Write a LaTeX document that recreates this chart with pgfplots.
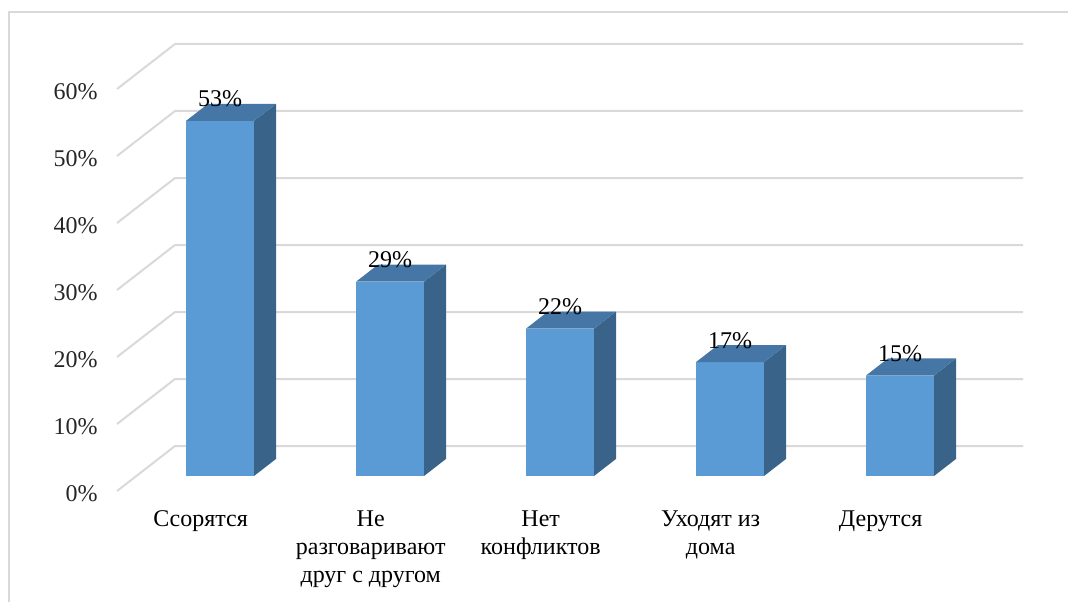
\documentclass[border=0pt]{standalone}
\usepackage{pgfplots}
\pgfplotsset{compat=1.18}
\usepackage{pgfplotstable}
\usepackage{fontspec}
\setmainfont{Liberation Serif}

\definecolor{barfront}{HTML}{5B9BD5}
\definecolor{bartop}{HTML}{4676A5}
\definecolor{barside}{HTML}{3A6389}
\definecolor{gridgray}{HTML}{D9D9D9}
\definecolor{ticktext}{HTML}{262626}

\pgfplotstableread{
idx v
0 53
1 29
2 22
3 17
4 15
}\answers

% oblique projection: x in px, y in percent
% floor depth = (58, 6.716); bars stand at depth 1/3, 22 px deep
\def\base{2.239}
\def\bback{4.786}

\newcommand\cube[1]{%
  \pgfplotstablegetelem{#1}{v}\of\answers
  \pgfmathsetmacro\ctop{\pgfplotsretval+\base}
  \pgfmathsetmacro\ctopb{\pgfplotsretval+\bback}
  \pgfmathsetmacro\xl{186+170*#1}
  \pgfmathsetmacro\xr{\xl+68}
  \pgfmathsetmacro\xlb{\xl+22}
  \pgfmathsetmacro\xrb{\xr+22}
  \addplot[fill=barfront, draw=none] coordinates {(\xl,\base) (\xr,\base) (\xr,\ctop) (\xl,\ctop)} -- cycle;
  \addplot[fill=barside, draw=none] coordinates {(\xr,\base) (\xrb,\bback) (\xrb,\ctopb) (\xr,\ctop)} -- cycle;
  \addplot[fill=bartop, draw=none] coordinates {(\xl,\ctop) (\xr,\ctop) (\xrb,\ctopb) (\xlb,\ctopb)} -- cycle;
}

\begin{document}
\begin{tikzpicture}
\path[use as bounding box] (0,0) rectangle (534pt,301pt);
\draw[gridgray, line width=1pt] (4.5pt,0) -- (4.5pt,295pt) -- (534pt,295pt);
\begin{axis}[
  at={(58.5pt,55.5pt)}, anchor=south west,
  x=0.5pt, y=3.35pt,
  xmin=117, xmax=1023, ymin=0, ymax=67,
  clip=false,
  axis line style={draw=none},
  tick style={draw=none},
  /pgf/number format/assume math mode=true,
  ytick={0,10,...,60},
  yticklabel={\pgfmathprintnumber{\tick}\%},
  yticklabel style={anchor=east, inner sep=0pt, xshift=-9.5pt, yshift=-1.5pt,
    font=\fontsize{12}{14}\selectfont, text=ticktext},
  xtick={200.67,370.67,540.67,710.67,880.67},
  xticklabels={Ссорятся, {Не\\разговаривают\\друг с другом}, {Нет\\конфликтов}, {Уходят из\\дома}, Дерутся},
  xticklabel style={anchor=north, inner sep=0pt, yshift=-9.6pt, align=center,
    font=\fontsize{12}{14}\selectfont, text=black},
]
% gridlines: left wall diagonals and back wall
\pgfplotsinvokeforeach{0,10,...,60}{%
  \pgfmathsetmacro\gy{#1+6.716}
  \addplot[gridgray, line width=1pt] coordinates {(117,#1) (175,\gy) (1023,\gy)};
}
\cube{0}
\cube{1}
\cube{2}
\cube{3}
\cube{4}
% value labels
\addplot[draw=none, point meta=explicit,
  nodes near coords={\pgfmathprintnumber{\pgfplotspointmeta}\%},
  nodes near coords style={anchor=base, inner sep=0pt, yshift=7pt,
    font=\fontsize{12}{14}\selectfont, text=black}]
  table[x expr=220+170*\thisrow{idx}, y expr=\thisrow{v}+\base, meta=v] {\answers};
\end{axis}
\end{tikzpicture}
\end{document}
